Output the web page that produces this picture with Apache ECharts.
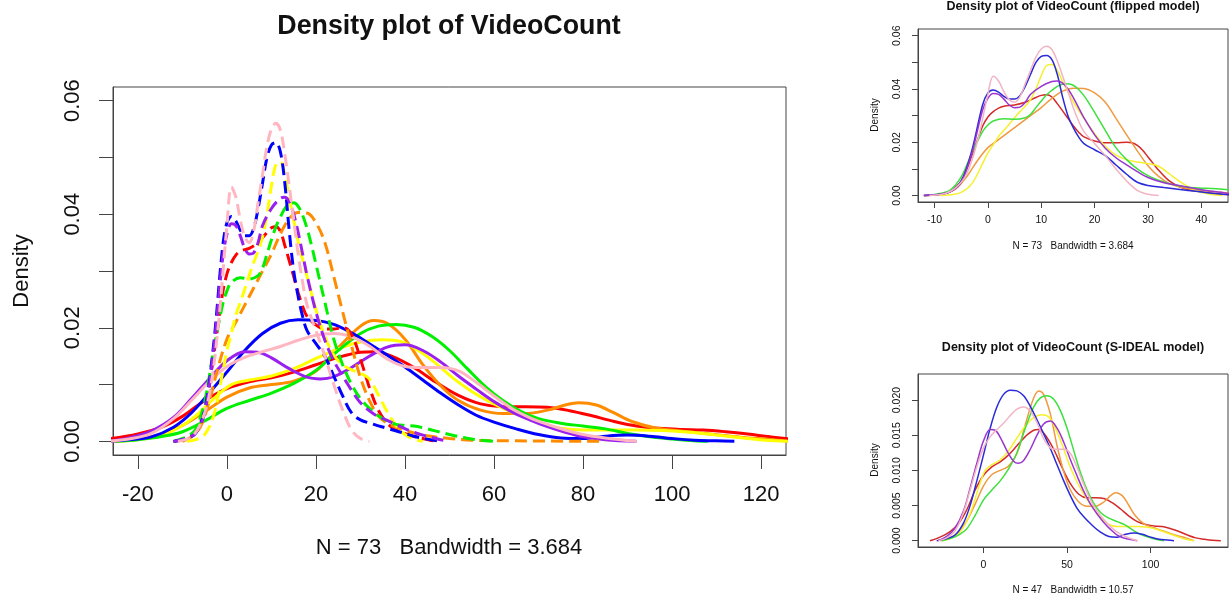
<!DOCTYPE html>
<html>
<head>
<meta charset="utf-8">
<script src="https://cdn.jsdelivr.net/npm/echarts@6/dist/echarts.min.js"></script>
<style>
html,body{margin:0;padding:0;background:#fff;}
#c{width:1229px;height:598px;}
</style>
</head>
<body>
<div id="c"></div>
<script>
// ---------- DATA ----------
// colour names (R palette)
const seriesNames = ['red','orange','yellow','green','blue','purple','pink'];

// Densities under the flipped model: [VideoCount, density]
const flippedRed = [[-12,0],[-9,0.0005],[-7,0.0018],[-5,0.0055],[-3,0.0150],[-1,0.0260],[0,0.0295],[1,0.0315],[2,0.0328],[3,0.0335],[5,0.0340],[7,0.0350],[9,0.0368],[10,0.0376],[11,0.0378],[12,0.0370],[13,0.0345],[14,0.0318],[15,0.0290],[16,0.0262],[17,0.0238],[18,0.0220],[20,0.0205],[22,0.0198],[24,0.0198],[26,0.0200],[27,0.0198],[28,0.0188],[29,0.0170],[30,0.0145],[31,0.0120],[32,0.0095],[34,0.0055],[36,0.0032],[38,0.0020],[41,0.0011],[44,0.0005],[47,0]];
const flippedOrange = [[-10,0],[-8,0.0008],[-6,0.0025],[-4,0.0070],[-2,0.0130],[0,0.0180],[2,0.0210],[4,0.0240],[6,0.0270],[8,0.0300],[10,0.0330],[12,0.0365],[14,0.0392],[16,0.0403],[18,0.0402],[20,0.0385],[22,0.0350],[24,0.0290],[26,0.0228],[28,0.0168],[30,0.0112],[32,0.0072],[34,0.0045],[36,0.0032],[39,0.0022],[42,0.0015],[45,0.0010],[50,0.0005],[55,0.0002],[65,0.0001],[85,0]];
const flippedYellow = [[-9,0],[-7,0.0003],[-5,0.0012],[-3,0.0045],[-1,0.0120],[0,0.0160],[1,0.0190],[2,0.0222],[3,0.0245],[4,0.0268],[5,0.0292],[6,0.0315],[7,0.0335],[8,0.0360],[9,0.0400],[10,0.0450],[11,0.0488],[12,0.0492],[13,0.0470],[14,0.0428],[15,0.0390],[16,0.0352],[17,0.0320],[18,0.0290],[20,0.0232],[22,0.0185],[24,0.0152],[26,0.0135],[28,0.0126],[30,0.0120],[32,0.0110],[34,0.0082],[36,0.0052],[38,0.0028],[40,0.0012],[42,0.0004],[44,0]];
const flippedGreen = [[-12,0],[-9,0.0008],[-7,0.0022],[-5,0.0070],[-3,0.0160],[-1,0.0240],[0,0.0265],[1,0.0280],[3,0.0288],[5,0.0286],[7,0.0292],[8,0.0305],[9,0.0330],[10,0.0355],[11,0.0378],[12,0.0395],[13,0.0410],[14,0.0418],[15,0.0420],[16,0.0414],[17,0.0398],[18,0.0375],[19,0.0345],[20,0.0312],[22,0.0245],[24,0.0180],[26,0.0135],[28,0.0100],[30,0.0075],[32,0.0058],[34,0.0045],[36,0.0036],[38,0.0030],[40,0.0028],[42,0.0027],[44,0.0024],[46,0.0020],[48,0.0016],[50,0.0012],[53,0.0007],[56,0.0003],[60,0]];
const flippedBlue = [[-12,0],[-9,0.0005],[-7,0.0015],[-5,0.0055],[-3,0.0170],[-1,0.0340],[0,0.0385],[1,0.0396],[2,0.0388],[3,0.0372],[4,0.0362],[5,0.0362],[6,0.0375],[7,0.0410],[8,0.0455],[9,0.0500],[10,0.0522],[11,0.0526],[12,0.0510],[13,0.0455],[14,0.0370],[15,0.0300],[16,0.0255],[17,0.0220],[18,0.0195],[20,0.0172],[22,0.0150],[24,0.0115],[26,0.0080],[28,0.0050],[30,0.0038],[33,0.0030],[36,0.0023],[39,0.0016],[42,0.0009],[45,0.0004],[48,0]];
const flippedPurple = [[-12,0],[-9,0.0005],[-7,0.0015],[-5,0.0050],[-3,0.0160],[-1,0.0320],[0,0.0365],[1,0.0383],[2,0.0380],[3,0.0362],[4,0.0340],[5,0.0330],[6,0.0332],[7,0.0350],[8,0.0380],[10,0.0410],[12,0.0428],[13,0.0430],[14,0.0422],[15,0.0400],[16,0.0368],[17,0.0330],[18,0.0292],[20,0.0228],[22,0.0178],[24,0.0142],[26,0.0115],[28,0.0090],[30,0.0068],[33,0.0048],[36,0.0037],[39,0.0026],[42,0.0016],[45,0.0009],[48,0.0003],[50,0]];
const flippedPink = [[-11,0],[-8,0.0008],[-6,0.0030],[-4,0.0080],[-2,0.0200],[0,0.0380],[1,0.0448],[2,0.0430],[3,0.0390],[4,0.0360],[5,0.0350],[6,0.0370],[7,0.0420],[8,0.0470],[9,0.0520],[10,0.0550],[11,0.0560],[12,0.0548],[13,0.0505],[14,0.0450],[15,0.0390],[16,0.0330],[17,0.0280],[18,0.0240],[20,0.0195],[22,0.0150],[24,0.0100],[26,0.0055],[28,0.0020],[30,0.0005],[32,0]];

// Densities under the S-IDEAL model: [VideoCount, density]
const sidealRed = [[-32,0],[-26,0.0005],[-20,0.0013],[-15,0.0024],[-10,0.0044],[-5,0.0072],[0,0.0093],[5,0.0105],[10,0.0112],[15,0.0122],[20,0.0135],[25,0.0148],[30,0.0157],[33,0.0158],[37,0.0150],[42,0.0130],[47,0.0104],[52,0.0081],[57,0.0066],[62,0.0061],[67,0.0061],[72,0.0060],[77,0.0054],[82,0.0045],[87,0.0035],[92,0.0027],[97,0.0023],[102,0.0021],[107,0.0020],[112,0.0017],[117,0.0013],[122,0.0008],[127,0.0004],[132,0.0002],[137,0.00005],[142,0]];
const sidealOrange = [[-26,0],[-20,0.0004],[-15,0.0012],[-10,0.0028],[-5,0.0052],[0,0.0078],[5,0.0094],[10,0.0100],[15,0.0106],[20,0.0124],[25,0.0165],[30,0.0203],[33,0.0213],[36,0.0208],[40,0.0180],[44,0.0135],[48,0.0098],[52,0.0072],[57,0.0055],[62,0.0049],[67,0.0049],[72,0.0055],[76,0.0064],[79,0.0068],[83,0.0064],[87,0.0050],[91,0.0035],[96,0.0024],[101,0.0019],[106,0.0015],[111,0.0011],[116,0.0007],[121,0.0004],[126,0]];
const sidealYellow = [[-25,0],[-20,0.0003],[-15,0.0010],[-11,0.0023],[-7,0.0045],[-3,0.0075],[1,0.0100],[5,0.0108],[10,0.0115],[15,0.0128],[20,0.0146],[25,0.0163],[30,0.0175],[35,0.0179],[39,0.0176],[43,0.0160],[47,0.0137],[51,0.0110],[55,0.0088],[59,0.0070],[63,0.0055],[67,0.0042],[71,0.0031],[75,0.0023],[80,0.0020],[86,0.0020],[92,0.0020],[98,0.0019],[104,0.0016],[110,0.0011],[116,0.0006],[121,0.0002],[126,0]];
const sidealGreen = [[-25,0],[-20,0.0003],[-15,0.0008],[-10,0.0017],[-5,0.0036],[0,0.0058],[5,0.0072],[10,0.0085],[15,0.0102],[20,0.0125],[25,0.0160],[30,0.0190],[34,0.0203],[38,0.0206],[42,0.0201],[46,0.0185],[50,0.0160],[54,0.0128],[58,0.0097],[62,0.0072],[66,0.0053],[70,0.0040],[75,0.0032],[80,0.0027],[85,0.0022],[90,0.0014],[95,0.0008],[100,0.0004],[105,0.0001],[108,0]];
const sidealBlue = [[-28,0],[-22,0.0003],[-17,0.0008],[-12,0.0025],[-8,0.0050],[-4,0.0085],[0,0.0122],[4,0.0160],[8,0.0190],[12,0.0208],[16,0.0214],[20,0.0213],[24,0.0206],[28,0.0191],[32,0.0172],[36,0.0152],[40,0.0131],[44,0.0108],[48,0.0085],[52,0.0064],[56,0.0046],[60,0.0034],[65,0.0022],[70,0.0012],[75,0.0006],[80,0.0005],[85,0.0009],[90,0.0011],[95,0.0009],[100,0.0005],[105,0.0002],[110,0.0001],[114,0]];
const sidealPurple = [[-27,0],[-22,0.0006],[-17,0.0018],[-12,0.0042],[-8,0.0075],[-4,0.0110],[0,0.0142],[4,0.0158],[7,0.0157],[10,0.0147],[14,0.0128],[18,0.0113],[21,0.0110],[24,0.0114],[28,0.0130],[32,0.0150],[36,0.0166],[40,0.0170],[44,0.0160],[48,0.0140],[52,0.0115],[56,0.0092],[60,0.0070],[64,0.0052],[68,0.0038],[72,0.0026],[76,0.0016],[80,0.0008],[85,0.0003],[92,0]];
const sidealPink = [[-27,0],[-22,0.0004],[-17,0.0014],[-12,0.0040],[-8,0.0072],[-4,0.0105],[0,0.0132],[4,0.0148],[8,0.0158],[12,0.0167],[16,0.0178],[20,0.0187],[24,0.0190],[28,0.0184],[32,0.0168],[36,0.0145],[40,0.0132],[44,0.0130],[48,0.0130],[52,0.0124],[56,0.0104],[60,0.0080],[64,0.0058],[68,0.0042],[72,0.0030],[76,0.0020],[80,0.0012],[85,0.0006],[92,0]];

// tick values / labels
const mainXTicks = [-20,0,20,40,60,80,100,120];
const mainYTicks = [0,0.01,0.02,0.03,0.04,0.05,0.06];
const mainYLabels = [0,0.02,0.04,0.06];
const flipXTicks = [-10,0,10,20,30,40];
const flipYTicks = [0,0.01,0.02,0.03,0.04,0.05,0.06];
const flipYLabels = [0,0.02,0.04,0.06];
const sidealXTicks = [0,50,100];
const sidealYTicks = [0,0.005,0.010,0.015,0.020];

const mainTitle = 'Density plot of VideoCount';
const flipTitle = 'Density plot of VideoCount (flipped model)';
const sidealTitle = 'Density plot of VideoCount (S-IDEAL model)';
const yName = 'Density';
const mainSub = 'N = 73   Bandwidth = 3.684';
const flipSub = 'N = 73   Bandwidth = 3.684';
const sidealSub = 'N = 47   Bandwidth = 10.57';

// ---------- STYLE ----------
const FONT = '"Liberation Sans", Arial, Helvetica, sans-serif';
const mainColors = ['#ff0000','#ff8c00','#ffff00','#00f000','#0000ff','#9a20f0','#ffb6c1'];
const smallColors = ['#d42a2a','#f09a40','#f5f030','#3ee03e','#2a2ad8','#9a35d0','#f2b4c4'];
const axisColor = '#444';

const flipped = [flippedRed, flippedOrange, flippedYellow, flippedGreen, flippedBlue, flippedPurple, flippedPink];
const sideal = [sidealRed, sidealOrange, sidealYellow, sidealGreen, sidealBlue, sidealPurple, sidealPink];

const chart = echarts.init(document.getElementById('c'), null, {renderer:'canvas'});

function xAx(gi, min, max, ticks, fs, tlen, margin){
  return {type:'value', gridIndex:gi, min:min, max:max, splitLine:{show:false},
    axisLine:{show:true, onZero:false, lineStyle:{color:axisColor, width:1}},
    axisTick:{show:true, customValues:ticks, length:tlen, lineStyle:{color:axisColor, width:1}},
    axisLabel:{show:true, customValues:ticks, fontSize:fs, fontFamily:FONT, color:'#111', margin:margin,
      formatter:(v)=>String(Math.round(v))}};
}
function yAx(gi, min, max, ticks, labels, fs, tlen, margin, dec){
  return {type:'value', gridIndex:gi, min:min, max:max, splitLine:{show:false},
    axisLine:{show:true, onZero:false, lineStyle:{color:axisColor, width:1}},
    axisTick:{show:true, customValues:ticks, length:tlen, lineStyle:{color:axisColor, width:1}},
    axisLabel:{show:true, customValues:labels, rotate:90, fontSize:fs, fontFamily:FONT, color:'#111', margin:margin,
      formatter:(v)=>v.toFixed(dec)}};
}

const series = [];
function addLine(data, color, width, dashed, gi, name){
  series.push({type:'line', name:name, xAxisIndex:gi, yAxisIndex:gi, data:data, showSymbol:false,
    smooth:0.35, clip:true, silent:true,
    lineStyle:{color:color, width:width, type: dashed ? [12,6] : 'solid', cap:'butt'}});
}
// main panel: S-IDEAL solid, flipped dashed
sideal.forEach((d,i)=>addLine(d, mainColors[i], 3, false, 0, seriesNames[i]+' S-IDEAL'));
flipped.forEach((d,i)=>addLine(d, mainColors[i], 3, true, 0, seriesNames[i]+' flipped'));
// top-right: flipped
flipped.forEach((d,i)=>addLine(d, smallColors[i], 1.5, false, 1, seriesNames[i]));
// bottom-right: S-IDEAL
sideal.forEach((d,i)=>addLine(d, smallColors[i], 1.5, false, 2, seriesNames[i]));

function txt(x, y, text, size, bold, rot){
  return {type:'text', x:x, y:y, rotation: rot||0, silent:true,
    style:{text:text, fill:'#111', font:(bold?'bold ':'')+size+'px '+FONT, textAlign:'center', textVerticalAlign:'middle'}};
}

const option = {
  animation:false,
  backgroundColor:'#fff',
  grid:[
    {left:113, top:87, width:673, height:368, show:true, borderColor:axisColor, borderWidth:1, containLabel:false},
    {left:918, top:29, width:310, height:173, show:true, borderColor:axisColor, borderWidth:1, containLabel:false},
    {left:918, top:374, width:310, height:173, show:true, borderColor:axisColor, borderWidth:1, containLabel:false}
  ],
  xAxis:[
    xAx(0, -25.6, 125.6, mainXTicks, 22, 14, 29),
    xAx(1, -13.1, 45.0, flipXTicks, 10.5, 6, 13),
    xAx(2, -39.2, 146.3, sidealXTicks, 10.5, 6, 13)
  ],
  yAxis:[
    yAx(0, -0.0024, 0.0624, mainYTicks, mainYLabels, 22, 14, 29, 2),
    yAx(1, -0.0024, 0.0625, flipYTicks, flipYLabels, 10.5, 6, 15, 2),
    yAx(2, -0.0009, 0.0237, sidealYTicks, sidealYTicks, 10.5, 6, 15, 3)
  ],
  series:series,
  graphic:[
    txt(449, 27, mainTitle, 26.8, true),
    txt(22, 271, yName, 22, false, Math.PI/2),
    txt(449, 548, mainSub, 22, false),
    txt(1073, 7, flipTitle, 12.5, true),
    txt(875, 115, yName, 10, false, Math.PI/2),
    txt(1073, 246, flipSub, 10, false),
    txt(1073, 348, sidealTitle, 12.5, true),
    txt(875, 460, yName, 10, false, Math.PI/2),
    txt(1073, 590, sidealSub, 10, false)
  ]
};
chart.setOption(option);
</script>
</body>
</html>
